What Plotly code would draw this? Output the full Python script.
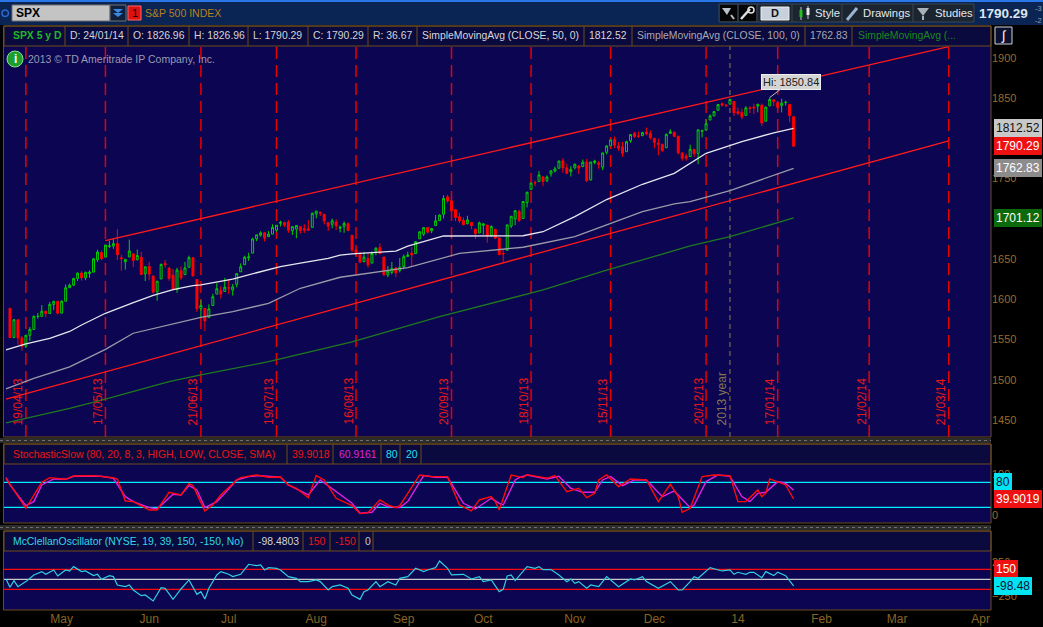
import pandas as pd
import plotly.graph_objects as go

W, H = 1043, 627
NAVY = "#0c0551"
HEAD = "#0a0a3e"
BROWN = "#6e4c1c"
AXC = "#9a6a2a"
FONT = "Liberation Sans, Arial, sans-serif"


def px(x):
    return x / W


def py(y):
    return 1 - y / H


def noon(s):
    return pd.Timestamp(s) + pd.Timedelta(hours=12)


# --- price data, SPX daily 15/04/13 .. 24/01/14 ---
opens = [1588.84, 1552.36, 1574.57, 1552.03, 1541.61, 1555.25, 1562.50, 1578.78, 1578.79, 1585.16, 1582.34, 1593.58,
         1597.55, 1582.77, 1597.60, 1614.40, 1617.55, 1625.95, 1632.69, 1626.69, 1632.10, 1633.75, 1649.13, 1658.07,
         1652.45, 1665.71, 1666.20, 1669.39, 1651.62, 1646.67, 1652.63, 1656.57, 1649.14, 1652.13,
         1631.71, 1640.73, 1629.05, 1609.29, 1625.27, 1644.67, 1638.64, 1629.94, 1612.15, 1635.52, 1630.64, 1639.77,
         1651.83, 1624.62, 1588.62, 1588.77, 1577.52, 1592.27, 1606.44, 1611.12,
         1609.78, 1614.29, 1611.48, 1618.65, 1634.20, 1642.89, 1651.56, 1657.41, 1675.26, 1679.59, 1682.70, 1677.91,
         1681.05, 1686.15, 1694.41, 1695.53, 1696.06, 1685.21, 1687.31, 1690.32, 1687.92, 1687.76,
         1689.42, 1706.10, 1708.01, 1705.79, 1695.30, 1693.35, 1696.10, 1688.37, 1690.65, 1693.88, 1679.61, 1661.22,
         1655.25, 1646.81, 1650.66, 1645.03, 1659.92, 1664.29, 1652.54, 1630.25, 1633.50, 1638.89,
         1635.95, 1640.72, 1653.28, 1657.44, 1656.85, 1675.11, 1681.04, 1689.21, 1685.04, 1691.70, 1697.73, 1705.74,
         1727.34, 1722.44, 1711.44, 1702.60, 1698.02, 1694.05, 1695.52, 1687.26,
         1682.41, 1691.90, 1692.35, 1678.79, 1687.15, 1676.22, 1656.99, 1660.88, 1691.09, 1699.86, 1709.17, 1700.49,
         1720.17, 1736.72, 1745.20, 1746.48, 1752.27, 1747.48, 1756.01, 1759.42, 1762.93, 1772.27, 1763.24,
         1758.73, 1763.40, 1765.67, 1765.00, 1770.74, 1748.37, 1769.96, 1769.51, 1764.37, 1782.75, 1790.66, 1798.82,
         1790.79, 1789.59, 1783.52, 1797.21, 1806.33, 1802.87, 1803.48, 1808.01,
         1806.55, 1800.10, 1794.08, 1792.82, 1788.36, 1806.21, 1807.60, 1802.76, 1781.71, 1777.98, 1777.48, 1786.47,
         1781.46, 1809.00, 1810.39, 1822.92, 1828.02, 1834.96, 1842.97, 1841.47, 1842.61,
         1845.86, 1833.21, 1832.31, 1828.71, 1837.90, 1839.00, 1840.06, 1841.26, 1821.36, 1840.52, 1847.99, 1844.23,
         1841.05, 1844.71, 1842.29, 1826.96]
highs = [1588.84, 1575.35, 1574.57, 1554.38, 1555.89, 1565.55, 1580.00, 1583.00, 1592.64, 1585.78, 1596.65, 1597.57,
         1597.55, 1598.60, 1618.46, 1619.77, 1626.03, 1632.78, 1635.01, 1633.70, 1636.00, 1651.10, 1661.49, 1660.51,
         1667.47, 1672.84, 1674.93, 1687.18, 1655.50, 1649.78, 1674.21, 1656.57, 1661.91, 1658.99,
         1640.42, 1646.53, 1629.31, 1622.56, 1644.40, 1648.69, 1640.13, 1637.71, 1639.25, 1640.80, 1646.50, 1654.19,
         1652.45, 1624.62, 1599.19, 1588.77, 1593.79, 1606.83, 1620.07, 1615.94,
         1626.61, 1624.26, 1618.97, 1632.07, 1644.68, 1654.18, 1657.92, 1676.63, 1680.19, 1684.51, 1683.73, 1684.75,
         1693.12, 1692.09, 1697.61, 1695.77, 1698.38, 1690.94, 1691.85, 1690.92, 1693.19, 1698.43,
         1707.85, 1709.67, 1709.24, 1705.79, 1695.30, 1700.18, 1699.42, 1691.49, 1696.81, 1695.52, 1679.61, 1663.60,
         1659.18, 1658.92, 1656.99, 1659.55, 1664.85, 1669.51, 1652.54, 1641.18, 1646.41, 1640.08,
         1651.35, 1655.72, 1659.17, 1664.83, 1672.40, 1684.09, 1689.13, 1689.97, 1688.73, 1704.95, 1705.52, 1729.44,
         1729.86, 1725.23, 1711.44, 1707.63, 1701.71, 1703.85, 1695.52, 1687.26,
         1696.55, 1693.87, 1692.35, 1691.94, 1687.15, 1676.79, 1662.47, 1692.56, 1703.44, 1711.03, 1711.57, 1721.76,
         1733.45, 1745.31, 1747.79, 1759.33, 1752.27, 1753.94, 1759.82, 1764.99, 1772.09, 1775.22, 1768.53,
         1765.67, 1768.78, 1767.03, 1773.74, 1774.54, 1770.78, 1773.44, 1771.78, 1782.00, 1791.53, 1798.22, 1802.33,
         1795.51, 1795.73, 1797.16, 1804.84, 1808.10, 1808.42, 1808.27, 1813.55,
         1810.02, 1800.10, 1799.80, 1792.82, 1806.04, 1811.52, 1808.52, 1802.97, 1782.99, 1780.92, 1792.22, 1786.77,
         1811.08, 1810.88, 1823.75, 1829.75, 1833.32, 1842.84, 1844.89, 1842.47, 1849.44,
         1845.86, 1838.24, 1837.16, 1840.10, 1840.02, 1843.23, 1843.15, 1843.45, 1839.26, 1850.84, 1847.99, 1846.04,
         1849.31, 1846.87, 1842.29, 1826.96]
lows = [1552.28, 1552.36, 1543.69, 1536.03, 1539.40, 1548.19, 1562.50, 1575.80, 1578.79, 1577.56, 1582.34, 1586.50,
        1581.28, 1582.77, 1597.60, 1614.21, 1616.64, 1622.70, 1623.09, 1623.71, 1626.74, 1633.75, 1646.68, 1648.60,
        1652.45, 1663.52, 1662.67, 1648.86, 1635.53, 1636.88, 1652.63, 1640.05, 1648.61, 1630.74,
        1622.72, 1623.62, 1607.09, 1598.23, 1625.27, 1639.26, 1622.92, 1610.92, 1608.07, 1623.96, 1630.34, 1639.77,
        1628.91, 1584.32, 1577.70, 1560.33, 1577.09, 1592.27, 1606.44, 1601.06,
        1609.78, 1606.77, 1604.57, 1614.71, 1634.20, 1642.89, 1647.66, 1657.41, 1672.33, 1677.89, 1671.84, 1677.91,
        1681.05, 1684.08, 1690.67, 1689.98, 1682.57, 1680.07, 1676.03, 1681.86, 1682.42, 1684.94,
        1689.42, 1700.68, 1703.55, 1693.29, 1684.91, 1688.38, 1686.02, 1683.35, 1682.62, 1684.83, 1658.59, 1652.61,
        1645.84, 1646.08, 1639.43, 1645.03, 1654.81, 1656.02, 1629.05, 1627.47, 1630.88, 1627.47,
        1633.41, 1637.41, 1653.07, 1640.62, 1656.85, 1675.11, 1678.70, 1681.96, 1682.22, 1691.70, 1697.73, 1700.35,
        1720.20, 1708.89, 1697.10, 1694.90, 1691.88, 1693.11, 1687.11, 1674.99,
        1682.07, 1680.34, 1670.36, 1677.33, 1674.70, 1655.03, 1646.47, 1660.88, 1688.52, 1692.13, 1695.93, 1700.49,
        1714.12, 1735.74, 1740.67, 1746.48, 1740.50, 1745.50, 1752.45, 1757.67, 1762.93, 1757.24, 1755.72,
        1752.70, 1761.56, 1755.76, 1764.40, 1746.20, 1747.63, 1767.85, 1762.29, 1760.64, 1780.22, 1790.66, 1788.00,
        1784.72, 1777.23, 1783.52, 1794.70, 1800.58, 1800.77, 1802.77, 1803.98,
        1798.60, 1787.85, 1779.09, 1783.38, 1788.36, 1806.21, 1801.75, 1780.09, 1772.28, 1772.45, 1777.48, 1777.05,
        1767.99, 1801.35, 1810.25, 1822.92, 1828.02, 1834.96, 1839.81, 1838.77, 1842.41,
        1827.74, 1829.13, 1823.73, 1828.71, 1831.40, 1830.38, 1832.43, 1815.52, 1821.36, 1840.52, 1840.30, 1835.23,
        1832.38, 1840.88, 1820.06, 1790.29]
closes = [1552.36, 1574.57, 1552.01, 1541.61, 1555.25, 1562.50, 1578.78, 1578.79, 1585.16, 1582.24, 1593.61, 1597.57,
          1582.70, 1597.59, 1614.42, 1617.50, 1625.96, 1632.69, 1626.67, 1633.70, 1633.77, 1650.34, 1658.78, 1650.47,
          1667.47, 1666.29, 1669.16, 1655.35, 1650.51, 1649.60, 1660.06, 1648.36, 1654.41, 1630.74,
          1640.42, 1631.38, 1608.90, 1622.56, 1643.38, 1642.81, 1626.13, 1612.52, 1636.36, 1626.73, 1639.04, 1651.81,
          1628.93, 1588.19, 1592.43, 1573.09, 1588.03, 1603.26, 1613.20, 1606.28,
          1614.96, 1614.08, 1615.41, 1631.89, 1640.46, 1652.32, 1652.62, 1675.02, 1680.19, 1682.50, 1676.26, 1680.91,
          1689.37, 1692.09, 1695.53, 1692.39, 1685.94, 1690.25, 1691.65, 1685.33, 1685.96, 1685.73,
          1706.87, 1709.67, 1707.14, 1697.37, 1690.91, 1697.48, 1691.42, 1689.47, 1694.16, 1685.39, 1661.32, 1655.83,
          1646.06, 1652.35, 1642.80, 1656.96, 1663.50, 1656.78, 1630.48, 1634.96, 1638.17, 1632.97,
          1639.77, 1653.08, 1655.08, 1655.17, 1671.71, 1683.99, 1689.13, 1683.42, 1687.99, 1697.60, 1704.76, 1725.52,
          1722.34, 1709.91, 1701.84, 1697.42, 1692.77, 1698.67, 1691.75, 1681.55,
          1695.00, 1693.87, 1678.66, 1690.50, 1676.12, 1655.45, 1656.40, 1692.56, 1703.20, 1710.14, 1698.06, 1721.54,
          1733.15, 1744.50, 1744.66, 1754.67, 1746.38, 1752.07, 1759.77, 1762.11, 1771.95, 1763.31, 1756.54,
          1761.64, 1767.93, 1762.97, 1770.49, 1747.15, 1770.61, 1771.89, 1767.69, 1782.00, 1790.62, 1798.18, 1791.53,
          1787.87, 1781.37, 1795.85, 1804.76, 1802.48, 1802.75, 1807.23, 1805.81,
          1800.90, 1795.15, 1792.81, 1785.03, 1805.09, 1808.37, 1802.62, 1782.22, 1775.50, 1775.32, 1786.54, 1781.00,
          1810.65, 1809.60, 1818.32, 1827.99, 1833.32, 1842.02, 1841.40, 1841.07, 1848.36,
          1831.98, 1831.37, 1826.77, 1837.88, 1837.49, 1838.13, 1842.37, 1819.20, 1838.88, 1848.38, 1845.89, 1838.70,
          1843.80, 1844.86, 1828.46, 1790.29]

# moving averages (trading-day number, value); day 0 = 12/04/13
sma50_idx = [0, 5, 11, 16, 19, 25, 32, 37, 42, 47, 49, 57, 63, 69, 74, 81, 84, 87, 98, 101, 110, 130, 135, 143,
             151, 160, 168, 176, 185, 193, 198]
sma50 = [1537, 1544.5, 1551.5, 1560, 1568, 1582.6, 1595.8, 1605, 1612, 1617, 1618, 1625, 1633, 1640.5, 1645,
         1651, 1655, 1656.5, 1660, 1666, 1678.7, 1679, 1684, 1702.7, 1724, 1743, 1756.6, 1781.5, 1796, 1807, 1812.52]
sma100_idx = [0, 7, 16, 25, 32, 41, 49, 57, 66, 74, 84, 101, 114, 130, 143, 151, 160, 168, 172, 182, 193, 198]
sma100 = [1488.5, 1501.8, 1516, 1537.8, 1557.8, 1568, 1577.6, 1584.6, 1595, 1613.7, 1627.4, 1639.4, 1657, 1664.7,
          1677.8, 1692.4, 1709, 1718.5, 1721.4, 1735, 1754.5, 1762.83]
sma200_idx = [0, 16, 25, 41, 49, 66, 87, 109, 135, 151, 160, 172, 182, 198]
sma200 = [1446.5, 1464.5, 1476, 1497.6, 1505.9, 1522.4, 1547, 1578.4, 1611.6, 1636.4, 1648.9, 1666.3, 1677.9,
          1701.12]

# hand-drawn channel lines
upper_line_dates = ["2013-05-17", "2014-03-21"]
upper_line = [1673, 1914]
lower_line_dates = ["2013-04-12", "2014-03-21"]
lower_line = [1476, 1797]

expiry_dates = ["2013-04-19", "2013-05-17", "2013-06-21", "2013-07-19", "2013-08-16", "2013-09-20",
                "2013-10-18", "2013-11-15", "2013-12-20", "2014-01-17", "2014-02-21", "2014-03-21"]
year_end = "2013-12-31"

# StochasticSlow
k_idx = [0, 5, 9, 11, 15, 17, 22, 27, 28, 30, 32, 36, 38, 41, 44, 46, 47, 50, 52, 54, 58, 59, 63, 66, 69, 71, 73,
         76, 78, 80, 83, 87, 89, 91, 94, 96, 98, 99, 104, 107, 111, 114, 117, 119, 122, 123, 124, 127, 130, 131, 136,
         138, 141, 144, 146, 148, 149, 151, 154, 157, 161, 164, 167, 169, 170, 172, 175, 178, 182, 184, 186, 189,
         190, 191, 192, 194, 196, 198]
k_vals = [89.6, 17.6, 80, 91.2, 87.2, 95.2, 96, 91, 88, 35, 33.6, 13.6, 13.6, 56, 49.6, 76.8, 72, 11.2, 25.6, 49.6,
          85.6, 91.2, 97.6, 92, 92.8, 73.6, 65.6, 43.2, 96, 85.6, 41.6, 24, 4.8, 7.2, 37.6, 25.6, 19.2, 24, 97.6,
          93.6, 93.6, 25.6, 11.2, 37.6, 45.6, 33.6, 13.6, 97.6, 91.2, 98.4, 89.6, 96, 57.6, 65.6, 43.2, 53.6, 85.6,
          97.6, 69.6, 88, 85.6, 33.6, 75.2, 45.6, 8, 17.6, 93.6, 97.6, 96, 33.6, 33.6, 61.6, 45.6, 53.6, 88, 81.6,
          73.6, 39.9]
d_idx = [0, 1, 5, 7, 9, 12, 15, 17, 24, 27, 30, 32, 36, 38, 42, 44, 46, 48, 50, 53, 55, 58, 61, 64, 69, 71, 74, 76,
         79, 83, 87, 89, 92, 94, 96, 99, 101, 105, 108, 111, 115, 118, 120, 122, 124, 125, 126, 128, 129, 131, 136,
         139, 142, 145, 148, 150, 152, 155, 158, 161, 165, 168, 172, 173, 176, 179, 182, 185, 187, 189, 191, 194,
         196, 198]
d_vals = [91, 73.6, 24, 33.6, 73.6, 88, 87.2, 94.4, 94.4, 89.6, 45.6, 33.6, 19.2, 16, 51.2, 49.6, 72, 61.6, 19.2,
          33.6, 53.6, 85.6, 93.6, 96, 92, 73.6, 59.2, 49.6, 85.6, 57.6, 29.6, 5.6, 8, 29.6, 21.6, 19.2, 33.6, 96, 92,
          92, 29.6, 16, 29.6, 41.6, 29.6, 25.6, 45, 85.6, 91.2, 97.6, 88, 94.4, 65.6, 56, 56, 85.6, 93.6, 72, 85.6,
          85.6, 45.6, 59.2, 19.2, 25.6, 81.6, 97.6, 94.4, 45.6, 33.6, 53.6, 56, 81.6, 77.6, 60.92]
stoch_levels = [80, 20]

# McClellan oscillator (NYSE)
mcc_idx = [0, 1, 2, 3, 5, 7, 9, 10, 12, 13, 15, 16, 17, 19, 20, 22, 23, 24, 26, 27, 28, 30, 31, 32, 34, 35, 37, 39,
           40, 42, 44, 46, 48, 49, 50, 51, 53, 54, 56, 57, 59, 61, 63, 64, 65, 66, 68, 69, 71, 73, 74, 76, 78, 79,
           81, 82, 84, 86, 87, 89, 90, 91, 93, 94, 96, 98, 99, 101, 103, 105, 106, 108, 109, 111, 112, 115, 117, 119,
           120, 122, 124, 125, 126, 127, 128, 129, 131, 133, 134, 135, 137, 139, 141, 142, 143, 144, 146, 147, 149,
           151, 154, 157, 158, 160, 161, 164, 167, 169, 170, 172, 173, 174, 177, 180, 182, 183, 184, 186, 187, 188,
           190, 191, 193, 194, 196, 198]
mcc_vals = [5, -120, -20, -110, -35, 65, 115, 75, 140, 50, 140, 125, 190, 115, 125, 55, 75, 0, 55, 40, -85, -110,
            -85, -160, -245, -235, -325, -125, -135, -300, -145, -10, -225, -185, -295, -135, 65, 115, 75, 40, 75,
            225, 205, 215, 140, 175, 165, 140, 40, 15, -35, -35, -10, -35, -160, -110, -85, -135, -235, -300, -185,
            -160, -35, -110, -35, -85, 15, 40, 165, 115, 140, 175, 275, 165, 65, 75, 5, 40, -35, -10, -185, -150,
            50, 65, -20, 55, 190, 165, 190, 145, 145, 65, -35, 5, -60, -35, -135, -85, -110, 40, -110, 5, -10, 40,
            -35, -135, -35, -160, -160, -35, 40, 15, 175, 125, 140, 75, 105, 75, 105, 105, 25, 115, 55, 105, 55,
            -98.48]
mcc_levels = [150, -150]

month_ticks = ["2013-05-01", "2013-06-03", "2013-07-01", "2013-08-01", "2013-09-03", "2013-10-01", "2013-11-01",
               "2013-12-02", "2014-01-02", "2014-02-03", "2014-03-03", "2014-04-01"]
month_labels = ["May", "Jun", "Jul", "Aug", "Sep", "Oct", "Nov", "Dec", "14", "Feb", "Mar", "Apr"]
# 1700 and 1800 sit under the value boxes on the right scale, so they are not shown
price_ticks = [1450, 1500, 1550, 1600, 1650, 1750, 1850, 1900]

holidays = ["2013-05-27", "2013-07-04", "2013-09-02", "2013-11-28", "2013-12-25", "2014-01-01", "2014-01-20",
            "2014-02-17"]
days = [d + pd.Timedelta(hours=12) for d in pd.bdate_range("2013-04-12", "2014-04-04")
        if d.strftime("%Y-%m-%d") not in holidays]
candle_days = days[1:1 + len(closes)]
assert len(opens) == len(highs) == len(lows) == len(closes) == 198


def pick(idx):
    return [days[i] for i in idx]


fig = go.Figure()

fig.add_trace(go.Scatter(x=pick(sma200_idx), y=sma200, mode="lines", line=dict(color="#1f7a1f", width=1.3),
                         xaxis="x", yaxis="y"))
fig.add_trace(go.Scatter(x=pick(sma100_idx), y=sma100, mode="lines", line=dict(color="#9a9aa8", width=1.3),
                         xaxis="x", yaxis="y"))
fig.add_trace(go.Scatter(x=pick(sma50_idx), y=sma50, mode="lines", line=dict(color="#e6e6ee", width=1.3),
                         xaxis="x", yaxis="y"))
fig.add_trace(go.Scatter(x=[noon(d) for d in upper_line_dates], y=upper_line, mode="lines",
                         line=dict(color="#ff1a1a", width=1.3), xaxis="x", yaxis="y"))
fig.add_trace(go.Scatter(x=[noon(d) for d in lower_line_dates], y=lower_line, mode="lines",
                         line=dict(color="#ff1a1a", width=1.3), xaxis="x", yaxis="y"))
fig.add_trace(go.Candlestick(x=candle_days, open=opens, high=highs, low=lows, close=closes,
                             increasing=dict(line=dict(color="#00d000", width=1), fillcolor=NAVY),
                             decreasing=dict(line=dict(color="#ff0000", width=1), fillcolor="#ff0000"),
                             whiskerwidth=0, xaxis="x", yaxis="y"))

fig.add_trace(go.Scatter(x=pick(d_idx), y=d_vals, mode="lines", line=dict(color="#e020e0", width=1.4),
                         xaxis="x", yaxis="y2"))
fig.add_trace(go.Scatter(x=pick(k_idx), y=k_vals, mode="lines", line=dict(color="#ff0a0a", width=1.4),
                         xaxis="x", yaxis="y2"))
fig.add_trace(go.Scatter(x=pick(mcc_idx), y=mcc_vals, mode="lines", line=dict(color="#30d0e0", width=1.2),
                         xaxis="x", yaxis="y3"))

shapes = []
ann = []


def rect(x0, y0, x1, y1, fill, line=None, lw=1):
    shapes.append(dict(type="rect", xref="paper", yref="paper", x0=px(x0), x1=px(x1), y0=py(y1), y1=py(y0),
                       fillcolor=fill, line=dict(color=line or "rgba(0,0,0,0)", width=lw if line else 0)))


def seg(x0, y0, x1, y1, color, width=1, dash="solid"):
    shapes.append(dict(type="line", xref="paper", yref="paper", x0=px(x0), x1=px(x1), y0=py(y0), y1=py(y1),
                       line=dict(color=color, width=width, dash=dash)))


def poly(pts, fill):
    path = "M " + " L ".join("%.5f,%.5f" % (px(a), py(b)) for a, b in pts) + " Z"
    shapes.append(dict(type="path", xref="paper", yref="paper", path=path, fillcolor=fill,
                       line=dict(width=0)))


def text(x, y, s, color="#d4d4d4", size=11, anchor="left", bold=False):
    ann.append(dict(xref="paper", yref="paper", x=px(x), y=py(y), text="<b>%s</b>" % s if bold else s,
                    showarrow=False, xanchor=anchor, yanchor="middle", font=dict(color=color, size=size)))


# toolbar
rect(0, 0, 1043, 25, "#0a2454")
rect(0, 0, 1043, 2, "#2a78e8")
shapes.append(dict(type="circle", xref="paper", yref="paper", x0=px(2), x1=px(8.5), y0=py(16.5), y1=py(10),
                   line=dict(color="#2a6ad0", width=1.5)))
rect(12, 5, 110, 21, "#c4c4c4", "#707070")
text(14, 13.5, "SPX", "#000000", 12, bold=True)
rect(110, 5, 126, 21, "#10203c", "#707070")
poly([(113, 9), (123, 9), (118, 13)], "#3a8ae8")
poly([(113, 13), (123, 13), (118, 17)], "#3a8ae8")
rect(128, 6, 141, 20, "#dd1111", "#ff6a6a")
text(134.5, 13.5, "1", "#000000", 11, "center")
text(143, 13.5, "S&P 500 INDEX", "#b8801a", 10.5)

rect(719, 4, 974, 22, "#1a2530", "#3a4652")
rect(720, 5, 737, 21, "#050505")
rect(739, 5, 756, 21, "#050505")
for xd in [738, 757, 792, 842, 913]:
    seg(xd, 4, xd, 22, "#3a4652")
poly([(722, 8), (731, 8), (727, 15)], "#b8c0c8")
seg(731, 15, 734, 19, "#b8c0c8", 2)
seg(741, 19, 750, 9, "#e0e0e0", 2.5)
shapes.append(dict(type="circle", xref="paper", yref="paper", x0=px(748), x1=px(754), y0=py(13), y1=py(7),
                   line=dict(color="#e0e0e0", width=1.5)))
rect(761, 7, 789, 20, "#c8d0dc", "#eeeeee")
text(775, 13.5, "D", "#111111", 11, "center", bold=True)
seg(801, 7, 801, 20, "#c0c8d0", 1)
rect(799.5, 10, 802.5, 17, "#20c020")
seg(808, 6, 808, 19, "#c0c8d0", 1)
rect(806.5, 8, 809.5, 15, "#e8e8e8")
text(813, 13.5, "Style", "#e4e8ec", 11.3)
seg(847, 20, 857, 8, "#9ab4d0", 3)
text(861, 13.5, "Drawings", "#e4e8ec", 11.3)
poly([(917, 8), (929, 8), (923, 16)], "#a8b0b8")
seg(923, 16, 923, 20, "#a8b0b8", 2)
text(933, 13.5, "Studies", "#e4e8ec", 11.3)
text(977, 13.5, "1790.29", "#dde4ec", 13.5, bold=True)
text(1033, 9, "-3", "#9aa0a8", 7.5)
text(1033, 20, "-2", "#9aa0a8", 7.5)

# price header row
HS = 10.4
rect(4, 26, 991, 46, HEAD, BROWN)
for xd in [65, 128, 189, 248, 308, 368, 417, 584, 632, 805, 852]:
    seg(xd, 26, xd, 46, BROWN)
text(11, 36, "SPX 5 y D", "#22b822", HS, bold=True)
text(68, 36, "D: 24/01/14", size=HS)
text(131, 36, "O: 1826.96", size=HS)
text(192, 36, "H: 1826.96", size=HS)
text(251, 36, "L: 1790.29", size=HS)
text(311, 36, "C: 1790.29", size=HS)
text(371, 36, "R: 36.67", size=HS)
text(420, 36, "SimpleMovingAvg (CLOSE, 50, 0)", "#d8d8d8", HS)
text(587, 36, "1812.52", "#d8d8d8", HS)
text(635, 36, "SimpleMovingAvg (CLOSE, 100, 0)", "#a8a8b0", HS)
text(808, 36, "1762.83", "#a8a8b0", HS)
text(856, 36, "SimpleMovingAvg (...", "#1a8a1a", HS)
rect(995, 27, 1012, 44, "#0a1030", "#d0d0d0")
text(1003.5, 35.5, "∫", "#ffffff", 13, "center")

# copyright line
shapes.append(dict(type="circle", xref="paper", yref="paper", x0=px(7), x1=px(23), y0=py(67), y1=py(51),
                   fillcolor="#1e9e2e", line=dict(color="#8ee08e", width=1)))
text(15, 59, "i", "#ffffff", 12, "center", bold=True)
text(26, 59, "2013 © TD Ameritrade IP Company, Inc.", "#9a9ab0", 10.5)

# panel frames and separators
shapes.append(dict(type="rect", xref="paper", yref="paper", x0=px(3.5), x1=px(991), y0=py(437), y1=py(26),
                   line=dict(color=BROWN, width=1)))
rect(0, 438, 991, 443, "#2c2c2c")
seg(0, 440.5, 991, 440.5, "#707070", 1, "dot")
rect(4, 444, 991, 464, HEAD, BROWN)
shapes.append(dict(type="rect", xref="paper", yref="paper", x0=px(3.5), x1=px(991), y0=py(523), y1=py(444),
                   line=dict(color=BROWN, width=1)))
rect(0, 525, 991, 530, "#2c2c2c")
seg(0, 527.5, 991, 527.5, "#707070", 1, "dot")
rect(4, 531, 991, 551, HEAD, BROWN)
shapes.append(dict(type="rect", xref="paper", yref="paper", x0=px(3.5), x1=px(991), y0=py(610), y1=py(531),
                   line=dict(color=BROWN, width=1)))

for xd in [287, 333, 381, 400, 421]:
    seg(xd, 444, xd, 464, BROWN)
text(11, 454, "StochasticSlow (80, 20, 8, 3, HIGH, LOW, CLOSE, SMA)", "#ee1414", HS)
text(290, 454, "39.9018", "#ee1414", HS)
text(337, 454, "60.9161", "#e020e0", HS)
text(384, 454, "80", "#20e0f0", HS)
text(404, 454, "20", "#20e0f0", HS)
for xd in [253, 303, 330, 359, 373]:
    seg(xd, 531, xd, 551, BROWN)
text(11, 541, "McClellanOscillator (NYSE, 19, 39, 150, -150, No)", "#30d8e8", HS)
text(256, 541, "-98.4803", "#d4d4d4", HS)
text(306, 541, "150", "#ee1414", HS)
text(333, 541, "-150", "#ee1414", HS)
text(363, 541, "0", "#c8c8c8", HS)

# expiration and year-end markers
for d in expiry_dates:
    shapes.append(dict(type="line", xref="x", yref="paper", x0=noon(d), x1=noon(d), y0=py(437), y1=py(46),
                       line=dict(color="#e80000", width=1.5, dash="12px,6px"), layer="below"))
    ann.append(dict(xref="x", yref="paper", x=noon(d), y=py(427), xshift=-8, text=pd.Timestamp(d).strftime("%d/%m/%y"),
                    textangle=-90, showarrow=False, xanchor="center", yanchor="bottom",
                    font=dict(color="#e81818", size=12)))
shapes.append(dict(type="line", xref="x", yref="paper", x0=noon(year_end), x1=noon(year_end), y0=py(437),
                   y1=py(46), line=dict(color="#7a6a4a", width=1.2, dash="5px,4px"), layer="below"))
ann.append(dict(xref="x", yref="paper", x=noon(year_end), y=py(427), xshift=-8, text="2013 year", textangle=-90,
                showarrow=False, xanchor="center", yanchor="bottom", font=dict(color="#857555", size=12)))

for lv in stoch_levels:
    shapes.append(dict(type="line", xref="x domain", yref="y2", x0=0, x1=1, y0=lv, y1=lv,
                       line=dict(color="#00f0ff", width=1.3), layer="below"))
shapes.append(dict(type="line", xref="x domain", yref="y3", x0=0, x1=1, y0=0, y1=0,
                   line=dict(color="#c8c8c8", width=1.2), layer="below"))
for lv in mcc_levels:
    shapes.append(dict(type="line", xref="x domain", yref="y3", x0=0, x1=1, y0=lv, y1=lv,
                       line=dict(color="#ff0a0a", width=1.3), layer="below"))

# high bubble
ann.append(dict(xref="x", yref="y", x=noon("2014-01-15"), y=1850.84, text="Hi: 1850.84", showarrow=True,
                arrowhead=0, arrowwidth=1, arrowcolor="#c0c0c0", ax=21, ay=-16, bgcolor="#d4d4d4",
                bordercolor="#eeeeee", borderpad=1, font=dict(color="#202020", size=11)))


# value boxes on the right scale
def tag(yref, y, s, bg, fg):
    ann.append(dict(xref="paper", yref=yref, x=px(994), y=y, text=s, showarrow=False, xanchor="left",
                    yanchor="middle", bgcolor=bg, bordercolor=bg, borderpad=1, font=dict(color=fg, size=12)))


tag("y", 1812.52, "1812.52", "#c8c8c8", "#111111")
tag("y", 1790.29, "1790.29", "#ee1111", "#ffffff")
tag("y", 1762.83, "1762.83", "#8c8c8c", "#ffffff")
tag("y", 1701.12, "1701.12", "#0b6a0b", "#ffffff")
tag("y2", 80, "80", "#00e4f4", "#101030")
tag("y2", 39.9, "39.9019", "#ee1111", "#ffffff")
tag("y3", 150, "150", "#ee1111", "#ffffff")
tag("y3", -98.48, "-98.48", "#00e4f4", "#101030")

axis_common = dict(showgrid=False, zeroline=False, showline=False, ticks="", side="right", anchor="x",
                   tickfont=dict(color=AXC, size=11), fixedrange=True)

fig.update_layout(
    width=W, height=H, autosize=False, margin=dict(l=0, r=0, t=0, b=0), showlegend=False,
    paper_bgcolor="black", plot_bgcolor=NAVY, font=dict(family=FONT, size=11, color="#d4d4d4"),
    shapes=shapes, annotations=ann,
    xaxis=dict(domain=[px(4), px(991)], anchor="y3", type="date",
               range=[noon("2013-04-12") - pd.Timedelta(hours=12), "2014-04-07 03:00"],
               rangebreaks=[dict(bounds=["sat", "mon"]), dict(values=holidays)],
               tickvals=[noon(d) for d in month_ticks], ticktext=month_labels, ticklabelshift=4,
               showgrid=False, zeroline=False, showline=False, ticks="",
               tickfont=dict(color="#8a6424", size=12), rangeslider=dict(visible=False)),
    yaxis=dict(domain=[py(437), py(46)], range=[1428.8, 1914.9], tickvals=price_ticks, **axis_common),
    yaxis2=dict(domain=[py(523), py(464)], range=[-17.7, 123.9], tickvals=[0, 100], **axis_common),
    yaxis3=dict(domain=[py(610), py(551)], range=[-460, 424], tickvals=[-250, 250], **axis_common),
)

# the page is photographed at exactly the figure size: no body margin, no plotly toolbar on top
fig.write_html("out.html", config=dict(displayModeBar=False),
               post_script="document.body.style.margin='0';document.body.style.overflow='hidden';")
